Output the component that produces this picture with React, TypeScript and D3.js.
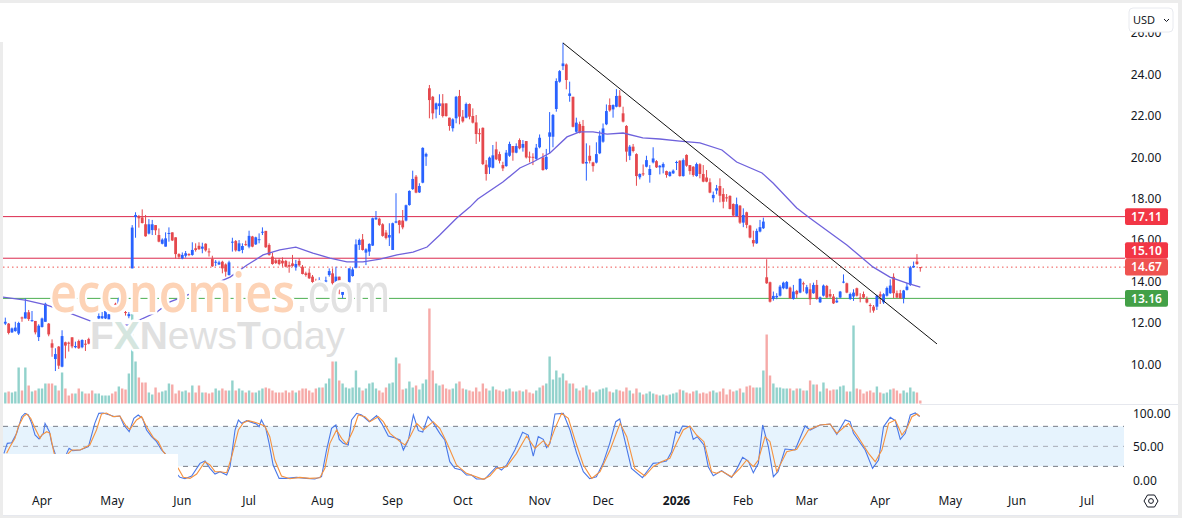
import React from "react";
import * as d3 from "d3";

const opens = [11.94,11.94,11.52,11.58,11.46,12.24,12.19,12.49,12.07,12.07,
11.29,11.78,12.03,11.94,10.99,10.23,10.83,9.86,11.04,11.02,
11.28,10.8,11.1,10.8,10.97,11.2,11.1,11.5,12.19,12.2,
12.19,12.13,12.49,12.9,12.87,13.03,12.5,12.3,14.61,17.09,
17.09,17.07,16.74,16.29,16.46,16.7,16.22,15.8,15.66,16.27,
16.35,16.11,15.3,15.09,15.22,15.3,15.26,15.58,15.7,15.56,
15.8,15.43,15.06,14.9,14.8,14.93,14.8,14.29,15.85,15.93,
15.45,15.5,15.78,15.66,16.15,15.77,15.98,16.34,16.42,15.74,
15.18,15,15.02,14.98,14.97,14.77,14.85,14.66,14.97,14.69,
14.37,14.4,14.21,13.99,14.02,13.82,13.97,14.29,14.37,13.89,
14.21,13.33,13.85,13.94,14.24,14.64,15.74,16.01,15.37,15.42,
15.71,16.98,17.01,16.74,16.34,16.1,15.5,16.82,16.92,16.92,
16.92,17.67,18.44,19.04,18.28,18.75,20.01,23.31,22.9,22.29,
22.45,22.58,22.58,21.89,21.38,21.86,22.94,21.94,21.89,22.55,
21.97,21.66,21.14,21.4,19.62,19.49,19.47,20.36,20.13,19.6,
19.55,20.05,20.52,20.2,20.81,20.44,20.76,20.01,20,19.9,
20.46,19.97,19.41,20.97,20.97,22.31,23.63,24.38,24.46,22.94,
22.9,21.21,21.58,21.49,19.68,20.05,19.73,19.72,20.17,20.73,
21.57,22.5,22.29,22.42,22.95,22.1,21.49,20.05,20.49,20.13,
19.01,19.2,19.52,19.12,19.73,19.79,19.49,19.49,19.31,19.07,
19.2,19.7,19.81,19.07,20.09,19.6,19.52,19.07,19.64,19.17,
19,18.77,18,18.37,18.59,18.2,18.04,18.11,17.72,17.14,
17.64,16.82,17.32,16.68,15.98,15.82,16.39,16.55,14.18,13.94,
13.13,13.21,13.29,13.65,13.63,13.68,13.13,13.52,13.44,13.89,
13.41,13.6,13.41,13.81,12.97,13.29,13.76,13.37,13.25,12.97,
13.2,13.93,13.89,13.13,13.25,13.65,13.2,13.37,13.13,12.84,
12.76,12.76,13.36,12.97,13.29,13.41,14.2,13.41,13.41,13.17,
13.57,13.81,14.66,14.94,14.67];

const closes = [12.03,11.49,11.71,11.75,11.97,12.19,12.49,12.16,12.11,11.52,
11.84,12.19,12.9,11.42,10.78,10.47,9.91,11.34,10.88,10.99,
10.84,10.86,10.75,11.15,10.94,10.97,11.0,11.55,12.31,12.3,
12.55,12.39,12.42,12.87,13.15,12.87,12.46,12.4,16.58,17.19,
17.03,16.8,16.16,16.74,16.74,16.45,15.9,16,16.06,16.32,
15.96,15.3,15.17,15.26,15.34,15.26,15.5,15.5,15.54,15.66,
15.48,15.41,14.71,14.93,14.9,14.61,14.45,14.9,15.9,15.48,
15.82,15.69,15.75,16.18,15.66,16.11,16.02,16.38,15.63,15.26,
14.82,14.87,14.82,14.85,14.69,14.69,14.73,14.82,14.76,14.34,
14.29,14.13,13.95,13.97,14.05,13.8,14.03,14.48,13.89,14.21,
13.82,13.47,13.9,14.61,14.56,15.77,15.98,15.5,15.53,15.79,
17.03,17.06,16.71,16.18,16.08,16.22,16.79,16.88,16.71,16.59,
17.66,18.35,18.93,18.27,18.59,20.43,20.14,22.74,22.1,22.58,
22.58,21.97,21.97,21.49,21.81,22.9,21.94,21.71,22.55,21.94,
21.65,21.1,21.12,19.65,19.17,19.96,20.07,19.88,19.81,19.44,
20.2,20.62,20.2,20.52,20.41,20.62,19.97,19.99,19.97,20.44,
20.92,19.36,20,21.18,22.02,23.66,24.14,24.51,23.71,23.06,
21.45,21.65,21.16,19.68,19.75,19.81,19.55,20.13,21.02,21.37,
22.21,22.24,22.5,22.94,22.42,21.7,20.25,20.49,20.28,19.07,
19.17,19.15,19.84,19.41,19.92,19.49,19.57,19.65,19.12,19.26,
19.33,19.75,19.07,19.84,19.57,19.31,19.12,19.65,19.17,18.8,
18.8,18.27,18.16,18.48,18.12,17.83,18,17.48,17.16,17.71,
16.82,17.19,16.71,16.1,15.82,16.42,16.6,16.87,13.89,13,
13.28,13.28,13.73,13.92,13.95,13.17,13.49,13.36,14.1,13.84,
13.7,13.12,13.81,13.13,13.21,13.78,13.2,13.25,12.92,13.05,
13.49,13.97,13.44,13.37,13.44,13.29,13.16,13.2,12.96,12.79,
12.57,13.29,13.25,13.36,13.66,13.78,13.41,13.2,13.17,13.54,
13.73,14.66,14.73,14.82,14.65];

const highs = [12.23,11.97,11.75,12.03,12.03,12.28,13.16,12.6,12.55,12.07,
11.91,12.23,12.95,11.97,11.18,10.75,10.86,11.62,11.07,11.07,
11.28,11.07,11.17,11.18,11.15,11.26,11.3,11.6,12.44,12.5,
12.58,12.42,12.55,12.95,13.2,13.1,12.55,12.5,16.7,17.32,
17.19,17.46,17.19,16.99,16.95,16.7,16.54,16.06,16.35,16.59,
16.35,16.11,15.34,15.38,15.45,15.34,15.87,15.82,15.87,15.85,
15.82,15.58,15.22,15.01,14.98,14.98,14.85,14.98,16.09,15.98,
15.98,15.82,15.95,16.43,16.18,16.14,16.3,16.59,16.42,15.82,
15.37,15.1,15.1,15.14,15.02,14.94,15.26,15.02,15.1,14.77,
14.45,14.61,14.29,14.11,14.18,13.89,14.21,14.61,14.61,14.69,
14.21,13.47,13.97,14.61,14.66,16.01,16.05,16.27,15.58,15.82,
17.06,17.38,17.06,16.79,16.46,16.79,16.82,18.24,16.95,17.43,
17.69,18.38,19.33,19.12,18.72,20.46,20.2,23.47,22.94,22.62,
23.02,23.03,22.58,21.89,21.86,22.94,23.23,22.26,22.62,22.58,
22.34,22.02,21.37,21.42,19.84,20.01,20.57,20.73,20.25,19.76,
20.33,20.73,20.52,20.65,20.89,20.81,20.76,20.25,20.17,20.62,
21.08,20.17,20.38,22.16,22.07,23.79,24.19,25.51,24.51,23.63,
22.9,21.89,21.7,21.78,20.65,20.55,19.76,20.7,21.26,21.61,
22.53,22.82,22.53,23.27,23.22,22.42,21.53,20.57,20.62,20.17,
19.2,19.63,20.05,19.6,20.46,19.84,19.6,19.73,19.33,19.3,
19.39,19.81,19.84,19.92,20.12,19.6,19.55,19.72,19.69,19.6,
19.36,18.96,18.32,18.64,18.96,18.48,18.2,18.14,17.75,18.03,
17.67,17.51,17.35,16.71,16.43,16.53,16.95,17.06,15.05,13.97,
13.49,13.41,13.81,13.97,14,13.73,13.81,13.57,14.13,13.97,
13.81,13.89,13.92,14.05,13.25,13.83,13.81,13.6,13.37,13.21,
13.52,14.32,13.92,13.44,13.6,13.68,13.41,13.49,13.25,12.92,
12.84,13.33,13.49,13.41,13.73,14.08,14.37,13.54,13.57,13.57,
13.92,14.73,14.94,15.3,14.67];

const lows = [11.87,11.42,11.49,11.55,11.39,12.03,12.19,12.07,12.03,11.42,
11.1,11.75,12.03,11.33,10.34,9.65,9.75,9.83,10.26,10.59,
10.75,10.75,10.72,10.75,10.62,10.94,10.9,11.45,12.16,12.16,
12.16,12.1,12.4,12.7,12.84,12.84,12.33,12.2,14.61,16.09,
16.58,16.78,16.14,16.25,16.22,16.22,15.87,15.77,15.66,15.9,
15.93,15.09,15.06,15.05,15.13,15.2,15.22,15.42,15.5,15.34,
15.42,15.18,14.68,14.72,14.77,14.37,14.21,14.26,15.42,15.42,
15.42,15.34,15.7,15.58,15.63,15.74,15.82,16.22,15.6,15.22,
14.79,14.82,14.76,14.69,14.66,14.4,14.69,14.5,14.69,14.32,
14.21,14.1,13.86,13.86,13.92,13.73,13.92,14.21,13.78,13.81,
13.36,13.16,13.73,13.92,14.21,14.61,15.5,15.47,14.77,15.21,
15.69,16.95,16.66,16.14,16.01,15.69,15.5,16.79,16.3,16.5,
16.88,17.64,18.4,18.24,18.25,18.72,19.56,21.86,21.81,21.86,
22.02,21.9,21.94,21.26,21.22,21.62,21.57,21.65,21.86,21.81,
21.61,20.62,20.73,19.6,18.85,19.17,19.44,19.84,19.68,19.31,
19.52,20,19.81,20.17,20.36,20.25,19.92,19.73,19.6,19.84,
20.41,19.33,19.36,20.17,20.46,22.18,23.58,24.19,23.26,22.66,
21.42,21.16,21.13,19.65,18.85,19.68,19.28,19.68,20.13,20.68,
21.53,22.18,21.89,22.39,22.39,21.66,19.76,19.84,20.21,18.6,
18.91,19.07,19.49,18.75,19.68,19.46,19.15,19.2,18.99,19.04,
19.17,19.36,19.04,19.04,19.52,19.14,19.04,19.04,18.96,18.77,
18.77,18.24,17.8,18.19,17.8,17.51,17.83,17.46,17.14,17.11,
16.76,16.6,16.55,16.06,15.66,15.79,16.35,16.51,13.86,12.96,
13.05,13.12,13.25,13.6,13.6,13.13,13.1,13.17,13.41,13.49,
13.36,12.84,13.38,13.1,12.94,13.25,13.17,13.17,12.89,12.94,
13.17,13.89,13.41,13.09,13.04,13.25,12.97,13.13,12.92,12.47,
12.47,12.6,12.89,12.89,13.25,13.38,13.17,13.17,13.13,12.92,
13.54,13.76,14.63,14.78,14.45];

const volumes = [11,12,11,12,36,13,36,18,12,13,
15,15,20,20,20,18,13,31,15,8,
10,10,15,12,10,10,13,10,10,8,
8,8,10,12,17,15,14,30,98,42,
26,21,21,11,9,16,11,12,13,20,
19,10,13,12,13,11,18,11,18,11,
11,10,11,15,13,15,13,13,23,13,
15,13,11,13,11,11,13,15,16,15,
13,11,11,11,13,11,13,11,13,15,
15,13,11,15,16,16,20,25,42,42,
23,20,16,15,16,33,16,13,15,20,
21,15,13,11,16,20,21,46,40,
14,15,22,16,18,14,20,24,95,33,
20,18,19,15,14,15,20,22,15,14,
13,12,16,12,20,15,13,17,14,13,
12,14,15,12,12,13,12,14,11,10,
13,16,18,20,47,24,33,26,30,23,
20,20,15,13,16,18,14,11,12,14,
15,16,12,11,14,13,12,16,13,10,
15,11,9,10,12,10,9,8,9,8,
9,10,11,14,13,11,10,12,13,10,
11,10,12,13,11,12,15,9,14,12,
13,15,
11,17,18,16,16,16,33,69,28,20,
16,16,15,15,15,13,15,15,13,13,
23,19,19,12,21,15,13,14,14,17,
18,12,12,78,15,14,10,12,13,11,
17,11,10,11,14,15,13,10,13,11,
16,12,11,3];

const movingAverage: [number, number][] = [[-1,13.23],[6,13.08],[12.5,12.84],[18.5,12.5],[25.4,12.07],[32,11.92],[36.7,11.87],[40.3,12.12],[45.4,12.5],[49.3,12.99],[53.2,13.23],[61.9,13.81],[67.3,14.19],[72.4,14.77],[77.2,15.26],[82.2,15.5],[87,15.64],[92.1,15.35],[97.2,15.11],[102.3,14.92],[107.1,14.92],[112.2,15.06],[117.3,15.26],[122.1,15.4],[126.3,15.64],[130.1,16.22],[135.2,17.04],[139.1,17.57],[141.5,17.96],[149,18.78],[154.1,19.46],[158,19.75],[163.1,20.18],[168.2,20.96],[172,21.2],[176,21.2],[180.2,21.1],[185,21.15],[190.9,20.91],[196,20.86],[202,20.76],[208,20.67],[214.6,20.33],[219,19.75],[226.6,19.22],[229.9,18.73],[237,17.53],[240.9,17.04],[252,15.74],[259.8,14.68],[264.9,14.19],[270,13.9],[274,13.71]];

const trendLine: [number, number][] = [[167, 25.5], [279, 10.96]];

const stochK: [number, number][] = [[-0.4,39.5],[0.6,54.5],[1.9,55.5],[3.4,69.5],[4.9,94.5],[5.9,99.5],[6.9,97],[7.9,84.5],[8.9,67],[10.1,61],[11.4,69.5],[11.9,84.5],[13.2,72],[13.9,54.5],[14.9,39.5],[15.6,19.5],[16.9,12],[18.4,39.5],[19.1,47],[20.2,43.5],[22.4,44.5],[24.9,49.5],[26.8,84.5],[28,99.5],[29.3,100],[31.3,97],[32.8,94.5],[34.3,95.5],[35.5,82],[37.1,72],[38.5,92],[39.8,97],[41.1,92],[42.3,74.5],[43.8,64.5],[45.3,57],[46.8,44.5],[47.8,39.5],[49.3,19.5],[52.3,3.5],[53.8,1.5],[55.8,5.5],[58.3,24.5],[59.8,28],[61.3,17],[62.8,8.5],[64.3,12],[66.3,7],[67.3,19.5],[68.8,74.5],[69.8,89.5],[70.8,84.5],[72.3,88.5],[75.2,83.5],[76,79.5],[76.7,89.5],[78,77],[79,54.5],[80.2,22],[82,2],[84.2,2],[87.2,3.5],[90.2,2],[92.7,1],[94.7,4.5],[96.2,44.5],[97.7,77],[99,82],[100,60.5],[101.2,54.5],[102.7,52],[103.7,89.5],[105.2,99.5],[106.7,97],[109,87],[111.2,96],[112.7,84.5],[114.7,65.5],[116.2,63.5],[118.2,59.5],[119.2,44.5],[120.7,59.5],[122.2,97],[123.7,73.5],[125,71.5],[126.6,94.5],[128.1,85.5],[130.1,69.5],[131.6,59.5],[133.1,27],[134.6,17],[136.6,14.5],[138.1,7],[139.6,7],[141.1,1],[143.6,1],[147.1,19.5],[148.6,14.5],[150.1,22],[152.6,44.5],[154.9,71],[156.6,67],[158.1,35.5],[159.6,64.5],[161.1,60.5],[162.1,48],[163.1,54.5],[164.6,98.5],[167.1,99.5],[169.1,74.5],[171.1,39.5],[173.1,12],[175,1.5],[177,4.5],[179,24.5],[181,54.5],[182.8,87],[184,91],[185.5,59.5],[187.5,17],[190.8,3],[192.5,14.5],[194,24.5],[195.5,25.5],[198,28],[199.5,42],[200.8,72],[201.8,69.5],[202.8,80.5],[205,79.5],[206,60.5],[207.2,64.5],[209.2,52],[210.5,19.5],[212,6],[214.5,13.5],[217.5,3.5],[219,15.5],[220.8,33.5],[222.5,28],[224,10.5],[225.5,24.5],[226.8,82],[228.5,49.5],[230,4.5],[231.4,12],[233.5,46],[236.5,44.5],[239.5,80.5],[241,74.5],[244,82],[247,83.5],[249,68],[251.5,89.5],[253,87],[254,69.5],[257.5,44.5],[259.7,17],[261.5,29.5],[263,79.5],[265,93.5],[266.5,88.5],[268,60.5],[269.5,69.5],[271,97],[272.5,100],[273.8,94.5]];

const stochD: [number, number][] = [[0.4,39.5],[1.4,49.5],[2.9,62],[3.9,79.5],[5.4,94.5],[6.4,98.5],[7.6,92],[8.9,77],[10.4,62],[10.9,67],[12.4,72],[13.4,69.5],[14.4,44.5],[15.4,24.5],[17.4,24.5],[18.9,39.5],[19.9,44.5],[22.4,44.5],[25.3,52],[27.3,74.5],[28.8,98.5],[30.3,100],[32.3,94.5],[34.3,95.5],[36.3,79.5],[37.3,75.5],[39.3,89.5],[40.8,94.5],[42.3,79.5],[44.3,63.5],[45.8,57],[47.3,42],[51.8,17],[53.3,3.5],[55.3,2],[57.3,8.5],[59.8,27],[61.3,22],[62.8,12],[64.3,12],[66.3,10.5],[67.8,34.5],[69.8,74.5],[71.3,85.5],[72.8,88.5],[75.2,85.5],[77.7,80.5],[79.2,64.5],[80.7,29.5],[82.7,5.5],[85.2,1.5],[88.2,3.5],[91.2,2],[94.2,3],[95.7,17],[97.2,54.5],[99.2,74.5],[100.7,62],[102.2,53],[104.2,74.5],[105.7,97],[107.7,94.5],[109.2,87],[111.7,94.5],[113.2,87],[115.2,69.5],[118.2,57],[119.7,52],[121.2,64.5],[123.2,84.5],[125.2,74.5],[128.1,87],[130.1,77],[132.1,57],[135.1,22],[138.1,9.5],[143.1,0.5],[145.1,5.5],[147.1,17],[150.1,19.5],[153.1,39.5],[156.1,65.5],[158.6,47],[161.1,58.5],[162.6,49.5],[164.6,77],[166.6,99.5],[168.6,92],[170.6,59.5],[173.1,22],[175.6,2],[178.1,12],[181.1,44.5],[184.1,84.5],[186.1,64.5],[188.5,17],[191.5,5.5],[194,19.5],[196.5,27],[199,32],[201,54.5],[203,74.5],[205,80.5],[207,67],[209.2,57],[211.5,12],[213,9.5],[214.5,13],[217.5,4.5],[220,17],[222,29.5],[224,19.5],[225.5,29.5],[227.5,64.5],[229,57],[231,12],[234,42],[237,45.5],[240.5,74.5],[244,82],[247,83.5],[249,69.5],[252.5,84.5],[255,67],[258.5,39.5],[260.5,27],[262.5,44.5],[264.5,84.5],[266.5,89.5],[268.5,67],[270,77],[271.5,94.5],[273,98.5],[273.8,95.5]];

const priceTicks = [10, 12, 14, 16, 18, 20, 22, 24, 26];
const stochTicks = [0, 50, 100];
const monthLabels = ["Apr","May","Jun","Jul","Aug","Sep","Oct","Nov","Dec","2026","Feb","Mar","Apr","May","Jun","Jul"];
const monthBars = [11,32,53,73,95,116,137,160,179,201,221,240,262,283,303,324];
const levels = [
  { price: 17.11, color: "#dc2a4e", tag: "#f23645", dotted: false },
  { price: 15.1, color: "#dc2a4e", tag: "#f23645", dotted: false },
  { price: 14.67, color: "#ef5350", tag: "#ef5350", dotted: true },
  { price: 13.16, color: "#4caf50", tag: "#43a047", dotted: false },
];

const FONT = "'Noto Sans', sans-serif";
const UP = "#2962ff";
const DOWN = "#e5484d";
const TAG_H = 16.6;

export default function App() {
  const x = d3.scaleLinear().domain([0, 274]).range([5.3, 920.3]);
  const y = d3.scaleLinear().domain([10, 24]).range([363.8, 74]);
  const yStoch = d3.scaleLinear().domain([0, 100]).range([479.7, 413]);
  const yVol = d3.scaleLinear().domain([0, 100]).range([403.5, 303.5]);
  const line = d3.line<[number, number]>().x((d) => x(d[0])).y((d) => y(d[1]));
  const lineS = d3.line<[number, number]>().x((d) => x(d[0])).y((d) => yStoch(d[1]));
  const halo = { stroke: "#fff", strokeWidth: 5, paintOrder: "stroke", strokeLinejoin: "round" } as const;

  // tags that would collide are pushed upward, as the price scale does
  const tagCentres = levels.map((l) => y(l.price));
  for (let i = levels.length - 2; i >= 0; i--) {
    if (tagCentres[i + 1] - tagCentres[i] < TAG_H) tagCentres[i] = tagCentres[i + 1] - TAG_H;
  }

  return (
    <svg width={1182} height={518} style={{ position: "absolute", left: 0, top: 0, display: "block", background: "#fff" }}>
      <defs>
        <clipPath id="plot"><rect x={3} y={30} width={1122} height={374} /></clipPath>
        <clipPath id="osc"><rect x={3} y={405} width={1122} height={80} /></clipPath>
      </defs>

      <rect x={3} y={yStoch(80)} width={1121} height={yStoch(20) - yStoch(80)} fill="#e6f3fd" />
      {[80, 50, 20].map((v) => (
        <line key={v} x1={3} x2={1124} y1={yStoch(v)} y2={yStoch(v)}
          stroke={v === 50 ? "#a9adb8" : "#787b86"} strokeWidth={1} strokeDasharray="5 5" />
      ))}
      <g clipPath="url(#osc)" fill="none">
        <path d={lineS(stochK) ?? ""} stroke="#4a78e8" strokeWidth={1.1} />
        <path d={lineS(stochD) ?? ""} stroke="#f5923f" strokeWidth={1.1} />
      </g>
      <rect x={0} y={454} width={178} height={32} fill="#fff" />

      <g clipPath="url(#plot)">
        {volumes.map((v, i) => (
          <rect key={i} x={x(i) - 1.2} width={2.4} y={yVol(v)} height={yVol(0) - yVol(v)}
            fill={closes[i] >= opens[i] ? "#92d2cc" : "#f6aaa8"} />
        ))}
        {levels.map((l) => (
          <line key={l.price} x1={3} x2={1125} y1={y(l.price)} y2={y(l.price)} stroke={l.color}
            strokeWidth={1} strokeDasharray={l.dotted ? "1.5 3" : undefined} />
        ))}
        {opens.map((o, i) => {
          const c = closes[i];
          const col = c >= o ? UP : DOWN;
          const top = y(Math.max(o, c));
          const h = Math.max(1, Math.abs(y(o) - y(c)));
          return (
            <g key={i}>
              <line x1={x(i)} x2={x(i)} y1={y(highs[i])} y2={y(lows[i])} stroke={col} strokeWidth={1} />
              <rect x={x(i) - 1.4} width={2.8} y={top} height={h} fill={col} />
            </g>
          );
        })}
        <path d={line(movingAverage) ?? ""} fill="none" stroke="#6f62dc" strokeWidth={1.3} />
        <path d={line(trendLine) ?? ""} fill="none" stroke="#111" strokeWidth={1} />

        <text x={50} y={312} fontFamily="'Open Sans', sans-serif" fontWeight={600} fontSize={54} textLength={245}
          lengthAdjust="spacingAndGlyphs" fill="#fdd3b6" {...halo}>economies</text>
        <text x={296} y={312} fontFamily="'Liberation Sans', sans-serif" fontSize={55} textLength={94}
          lengthAdjust="spacingAndGlyphs" fill="#e2e2e2" {...halo}>.com</text>
        <text x={90} y={349} fontFamily="'Liberation Sans', sans-serif" fontSize={39} textLength={255}
          lengthAdjust="spacingAndGlyphs" fill="#e0e0e0" {...halo}>
          <tspan fontWeight={700}>F</tspan>
          <tspan fontWeight={700} fill="#d5e6df">X</tspan>
          <tspan fontWeight={700}>N</tspan>
          <tspan>ews</tspan>
          <tspan fontWeight={700}>T</tspan>
          <tspan>oday</tspan>
        </text>
      </g>

      {priceTicks.map((t) => (
        <text key={t} x={1146} y={y(t) + 0.5} dy="0.36em" textAnchor="middle" fontFamily={FONT} fontSize={12} fill="#131722">
          {t.toFixed(2)}
        </text>
      ))}
      {stochTicks.map((t) => (
        <text key={t} x={1133} y={yStoch(t) + 0.5} dy="0.36em" fontFamily={FONT} fontSize={12} fill="#131722">
          {t.toFixed(2)}
        </text>
      ))}

      {levels.map((l, i) => (
        <g key={l.price}>
          <rect x={1125} y={tagCentres[i] - TAG_H / 2} width={43} height={TAG_H} rx={2} fill={l.tag} />
          <text x={1146.5} y={tagCentres[i]} dy="0.36em" textAnchor="middle" fontFamily={FONT} fontSize={12} fontWeight={600} fill="#fff">
            {l.price.toFixed(2)}
          </text>
        </g>
      ))}

      {monthLabels.map((m, i) => (
        <text key={i} x={x(monthBars[i])} y={501} dy="0.36em" textAnchor="middle" fontFamily={FONT} fontSize={12}
          fontWeight={m === "2026" ? 700 : 400} fill="#131722">{m}</text>
      ))}

      <g transform="translate(1151,501)" fill="none" stroke="#131722" strokeWidth={1}>
        <path d="M-7 0 L-3.5 -6 L3.5 -6 L7 0 L3.5 6 L-3.5 6 Z" />
        <circle r={2.4} />
      </g>

      <rect x={1129} y={8} width={44} height={24} rx={4} fill="#fff" stroke="#e8eaef" />
      <text x={1133} y={20} dy="0.36em" fontFamily={FONT} fontSize={11} fill="#131722">USD</text>
      <path d="M1164 19 l2.5 2.5 l2.5 -2.5" fill="none" stroke="#131722" strokeWidth={1} />

      <line x1={920} x2={1182} y1={404.5} y2={404.5} stroke="#e6e8ee" />
      <line x1={0} x2={1182} y1={515.5} y2={515.5} stroke="#e6e8ee" />
      <rect x={0} y={0} width={1182} height={3} fill="#ececec" />
      <rect x={0} y={42} width={3} height={476} fill="#ececec" />
      <rect x={1178} y={0} width={4} height={518} fill="#ececec" />
      <rect x={0} y={516} width={1182} height={2} fill="#ececec" />
    </svg>
  );
}
